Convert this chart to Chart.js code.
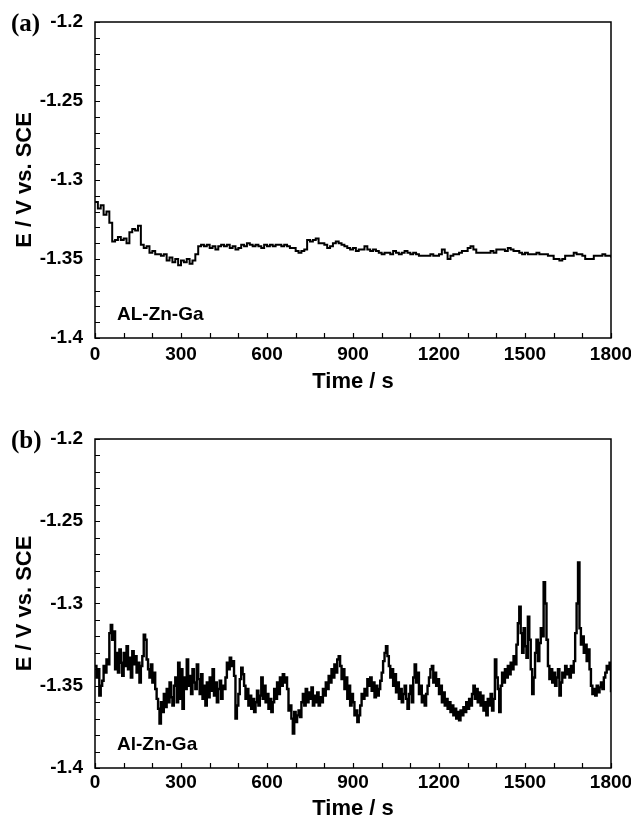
<!DOCTYPE html>
<html>
<head>
<meta charset="utf-8">
<script src="https://cdn.jsdelivr.net/npm/chart.js@4.4.1/dist/chart.umd.min.js"></script>
<style>
  html, body { margin: 0; padding: 0; background: #fff; }
  canvas { display: block; }
</style>
</head>
<body>
<canvas id="chartA" width="631" height="410"></canvas>
<canvas id="chartB" width="631" height="412"></canvas>
<script>
// sampling interval of each record, seconds
const stepA = 10;
const stepB = 5;

// (a) open circuit potential, V vs. SCE, one value every 10 s
const potentialA = [
  -1.314, -1.318, -1.316, -1.322, -1.320, -1.327, -1.339, -1.338, -1.336, -1.338,
  -1.337, -1.340, -1.333, -1.331, -1.332, -1.329, -1.341, -1.343, -1.342, -1.346,
  -1.345, -1.347, -1.347, -1.348, -1.347, -1.351, -1.349, -1.352, -1.350, -1.354,
  -1.351, -1.352, -1.350, -1.353, -1.351, -1.347, -1.342, -1.341, -1.342, -1.341,
  -1.343, -1.342, -1.344, -1.342, -1.341, -1.342, -1.341, -1.343, -1.342, -1.344,
  -1.343, -1.341, -1.342, -1.340, -1.341, -1.342, -1.341, -1.342, -1.343, -1.341,
  -1.342, -1.341, -1.342, -1.341, -1.341, -1.342, -1.341, -1.342, -1.343, -1.343,
  -1.345, -1.346, -1.345, -1.344, -1.338, -1.339, -1.338, -1.337, -1.340, -1.340,
  -1.341, -1.343, -1.342, -1.340, -1.339, -1.340, -1.341, -1.342, -1.343, -1.344,
  -1.343, -1.345, -1.344, -1.344, -1.342, -1.344, -1.345, -1.344, -1.345, -1.346,
  -1.347, -1.346, -1.346, -1.347, -1.345, -1.346, -1.347, -1.346, -1.345, -1.346,
  -1.347, -1.346, -1.347, -1.348, -1.348, -1.348, -1.348, -1.347, -1.348, -1.348,
  -1.347, -1.344, -1.346, -1.350, -1.348, -1.347, -1.347, -1.346, -1.345, -1.345,
  -1.343, -1.342, -1.344, -1.346, -1.346, -1.346, -1.346, -1.346, -1.345, -1.346,
  -1.344, -1.344, -1.344, -1.345, -1.343, -1.344, -1.345, -1.345, -1.346, -1.347,
  -1.346, -1.347, -1.347, -1.347, -1.346, -1.347, -1.347, -1.347, -1.348, -1.348,
  -1.350, -1.350, -1.351, -1.350, -1.348, -1.348, -1.348, -1.346, -1.347, -1.347,
  -1.348, -1.350, -1.350, -1.350, -1.348, -1.348, -1.348, -1.347, -1.348, -1.348,
  -1.349
];

// (b) open circuit potential, V vs. SCE, one value every 5 s
const potentialB = [
  -1.338, -1.345, -1.340, -1.356, -1.350, -1.347, -1.338, -1.342, -1.334, -1.337,
  -1.318, -1.313, -1.322, -1.317, -1.340, -1.330, -1.342, -1.328, -1.336, -1.344,
  -1.330, -1.338, -1.326, -1.340, -1.333, -1.345, -1.329, -1.337, -1.332, -1.342,
  -1.336, -1.348, -1.338, -1.332, -1.319, -1.322, -1.334, -1.340, -1.345, -1.337,
  -1.348, -1.342, -1.352, -1.358, -1.364, -1.373, -1.360, -1.366, -1.355, -1.363,
  -1.352, -1.360, -1.348, -1.357, -1.362, -1.350, -1.345, -1.360, -1.336, -1.358,
  -1.340, -1.364, -1.345, -1.352, -1.334, -1.350, -1.344, -1.355, -1.340, -1.348,
  -1.352, -1.337, -1.346, -1.355, -1.343, -1.358, -1.350, -1.362, -1.348, -1.357,
  -1.345, -1.353, -1.340, -1.356, -1.348, -1.360, -1.352, -1.347, -1.358, -1.350,
  -1.352, -1.345, -1.336, -1.340, -1.333, -1.338, -1.335, -1.344, -1.370, -1.362,
  -1.355, -1.346, -1.339, -1.343, -1.350, -1.358, -1.352, -1.362, -1.356, -1.364,
  -1.358, -1.366, -1.360, -1.353, -1.362, -1.356, -1.345, -1.358, -1.350, -1.360,
  -1.355, -1.364, -1.358, -1.366, -1.360, -1.352, -1.358, -1.348, -1.355, -1.345,
  -1.350, -1.343, -1.348, -1.345, -1.352, -1.365, -1.362, -1.370, -1.379, -1.366,
  -1.372, -1.368, -1.365, -1.369, -1.360, -1.355, -1.362, -1.352, -1.360, -1.354,
  -1.358, -1.351, -1.362, -1.356, -1.360, -1.354, -1.362, -1.357, -1.360, -1.352,
  -1.356, -1.348, -1.352, -1.344, -1.348, -1.340, -1.345, -1.337, -1.342, -1.334,
  -1.332, -1.338, -1.346, -1.340, -1.352, -1.345, -1.358, -1.350, -1.362, -1.355,
  -1.360, -1.368, -1.365, -1.372, -1.368, -1.362, -1.355, -1.358, -1.352, -1.356,
  -1.346, -1.350, -1.345, -1.353, -1.348, -1.357, -1.350, -1.356, -1.352, -1.347,
  -1.342, -1.335, -1.330, -1.326, -1.332, -1.338, -1.345, -1.340, -1.350, -1.343,
  -1.354, -1.348, -1.358, -1.352, -1.360, -1.355, -1.350, -1.358, -1.364, -1.355,
  -1.350, -1.360, -1.345, -1.337, -1.348, -1.342, -1.355, -1.350, -1.360, -1.356,
  -1.362, -1.355, -1.350, -1.345, -1.340, -1.338, -1.348, -1.342, -1.350, -1.346,
  -1.355, -1.350, -1.360, -1.354, -1.362, -1.358, -1.364, -1.360, -1.366, -1.362,
  -1.368, -1.364, -1.370, -1.366, -1.371, -1.365, -1.368, -1.363, -1.366, -1.360,
  -1.364, -1.358, -1.362, -1.355, -1.350, -1.358, -1.352, -1.360, -1.354, -1.362,
  -1.356, -1.365, -1.360, -1.368, -1.358, -1.362, -1.355, -1.365, -1.358, -1.334,
  -1.345, -1.352, -1.366, -1.350, -1.342, -1.348, -1.340, -1.345, -1.338, -1.343,
  -1.336, -1.340, -1.332, -1.337, -1.325, -1.312, -1.302, -1.318, -1.330, -1.315,
  -1.326, -1.333, -1.308, -1.322, -1.340, -1.355, -1.345, -1.330, -1.322, -1.335,
  -1.324, -1.315, -1.320, -1.287, -1.300, -1.322, -1.338, -1.346, -1.340, -1.348,
  -1.342, -1.350, -1.345, -1.340, -1.356, -1.348, -1.342, -1.345, -1.338, -1.343,
  -1.340, -1.345, -1.338, -1.342, -1.335, -1.318, -1.300, -1.275, -1.315, -1.325,
  -1.320, -1.330, -1.325, -1.335, -1.328, -1.340, -1.350, -1.355, -1.352, -1.356,
  -1.350, -1.354, -1.351, -1.348, -1.352, -1.345, -1.342, -1.338, -1.340, -1.336,
  -1.354
];

const xTicks = [0, 300, 600, 900, 1200, 1500, 1800];
const xTickLabels = ['0', '300', '600', '900', '1200', '1500', '1800'];
const yTicks = [-1.4, -1.35, -1.3, -1.25, -1.2];
const yTickLabels = ['-1.4', '-1.35', '-1.3', '-1.25', '-1.2'];
const panelNames = ['(a)', '(b)'];
const alloyNames = ['AL-Zn-Ga', 'Al-Zn-Ga'];

const sansBold = (size) => ({ family: '"Liberation Sans", Arial, sans-serif', size: size, weight: 'bold' });

// box round the plot, small inward ticks, panel letter and alloy name
const framePlugin = {
  id: 'frame',
  afterDatasetsDraw(chart, args, opts) {
    const ctx = chart.ctx;
    const a = chart.chartArea;
    const x = chart.scales.x;
    const y = chart.scales.y;
    ctx.save();
    ctx.strokeStyle = '#000';
    ctx.lineWidth = 1.5;
    ctx.strokeRect(a.left, a.top, a.right - a.left, a.bottom - a.top);

    ctx.beginPath();
    for (let v = 0; v <= 1800; v += 100) {
      const px = Math.round(x.getPixelForValue(v)) + 0.5;
      ctx.moveTo(px, a.bottom);
      ctx.lineTo(px, a.bottom - 5);
    }
    for (let i = 0; i <= 20; i++) {
      const py = Math.round(y.getPixelForValue(-1.4 + i * 0.01)) + 0.5;
      ctx.moveTo(a.left, py);
      ctx.lineTo(a.left + 5, py);
    }
    ctx.lineWidth = 1.2;
    ctx.stroke();

    ctx.fillStyle = '#000';
    ctx.textAlign = 'left';
    ctx.textBaseline = 'middle';
    ctx.font = 'bold 25px "Liberation Serif", "Times New Roman", serif';
    ctx.fillText(opts.panel, 11, a.top + 3);
    ctx.font = 'bold 19px "Liberation Sans", Arial, sans-serif';
    ctx.fillText(opts.alloy, a.left + 22, a.bottom - 23);
    ctx.restore();
  }
};

function makeChart(id, step, values, idx, geom) {
  const points = values.map((v, i) => ({ x: i * step, y: v }));
  return new Chart(document.getElementById(id), {
    type: 'line',
    data: {
      datasets: [{
        data: points,
        borderColor: '#000',
        borderWidth: geom.lineWidth,
        stepped: true,
        pointRadius: 0,
        tension: 0,
        fill: false
      }]
    },
    options: {
      responsive: false,
      animation: false,
      events: [],
      layout: { padding: { left: 0, right: 20, top: geom.top, bottom: 0 } },
      plugins: {
        legend: { display: false },
        tooltip: { enabled: false },
        frame: { panel: panelNames[idx], alloy: alloyNames[idx] }
      },
      scales: {
        x: {
          type: 'linear',
          min: 0,
          max: 1800,
          afterBuildTicks: (s) => { s.ticks = xTicks.map(v => ({ value: v })); },
          afterFit: (s) => { s.height = geom.xHeight; s.paddingLeft = 0; s.paddingRight = 0; },
          grid: { display: false, drawTicks: false },
          border: { display: false },
          ticks: {
            padding: geom.xPad,
            color: '#000',
            font: sansBold(19),
            maxRotation: 0,
            autoSkip: false,
            callback: (value, i) => xTickLabels[i]
          },
          title: {
            display: true,
            text: 'Time / s',
            color: '#000',
            font: sansBold(22),
            padding: { top: 0, bottom: geom.titlePad }
          }
        },
        y: {
          min: -1.4,
          max: -1.2,
          afterBuildTicks: (s) => { s.ticks = yTicks.map(v => ({ value: v })); },
          afterFit: (s) => { s.width = 95; s.paddingTop = 0; s.paddingBottom = 0; },
          grid: { display: false, drawTicks: false },
          border: { display: false },
          ticks: {
            padding: 12,
            color: '#000',
            font: sansBold(19),
            callback: (value, i) => yTickLabels[i]
          },
          title: {
            display: true,
            text: 'E / V vs. SCE',
            color: '#000',
            font: sansBold(22),
            padding: { top: 12, bottom: 0 }
          }
        }
      }
    },
    plugins: [framePlugin]
  });
}

makeChart('chartA', stepA, potentialA, 0, { top: 22, xHeight: 72, xPad: 5, titlePad: 15, lineWidth: 2 });
makeChart('chartB', stepB, potentialB, 1, { top: 29, xHeight: 54, xPad: 3, titlePad: 0, lineWidth: 2.4 });
</script>
</body>
</html>
